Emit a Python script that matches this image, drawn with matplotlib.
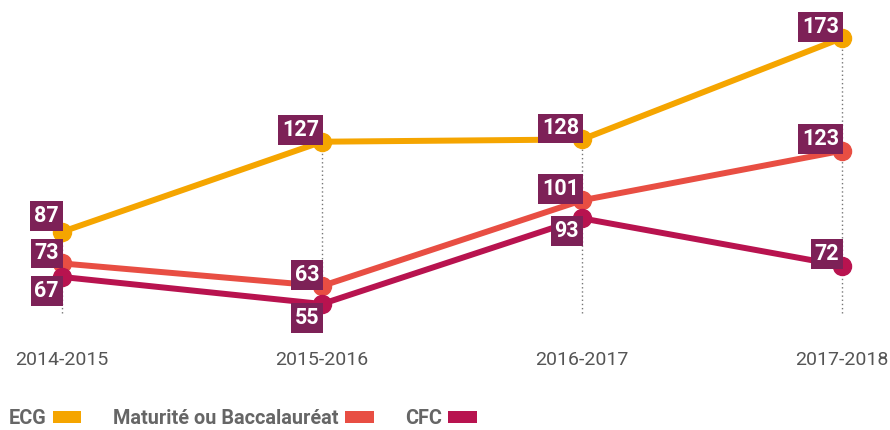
import matplotlib
matplotlib.use("Agg")
import matplotlib.pyplot as plt
from matplotlib.patches import Patch

# data
years = ["2014-2015", "2015-2016", "2016-2017", "2017-2018"]
ecg = [87, 127, 128, 173]
maturite = [73, 63, 101, 123]
cfc = [67, 55, 93, 72]
series_names = ["ECG", "Maturité ou Baccalauréat", "CFC"]

# styles
colors = ["#F5A500", "#E84E43", "#B8134F"]
box_color = "#7D2157"
# vertical offset (px, image down = positive) of each value box centre from its point
label_dy = [[-16, -12, -11, -11],
            [-10, -11, -11, -12],
            [14, 14, 13, -12]]

plt.rcParams["font.family"] = ["Roboto", "DejaVu Sans"]

fig = plt.figure(figsize=(8.9, 4.3), dpi=100)
ax = fig.add_axes([0, 100 / 430, 1, 330 / 430])

xs = list(range(len(years)))
ax.set_xlim(-62 / 260, (890 - 62) / 260)
ax.set_ylim(55 - 26 / 2.254, 55 + 304 / 2.254)

# dotted guides
all_series = [ecg, maturite, cfc]
for i in xs:
    top = max(s[i] for s in all_series)
    ax.plot([i, i], [51, top], color="#777777", linestyle=(0, (1, 2)), linewidth=1, zorder=1)

for k, (vals, col) in enumerate(zip(all_series, colors)):
    ax.plot(xs, vals, color=col, linewidth=4.3, marker="o", markersize=13,
            solid_capstyle="butt", zorder=2 + k)
    for i, v in enumerate(vals):
        ax.annotate(str(v), (i, v), xytext=(-3, -label_dy[k][i]), textcoords="offset pixels",
                    ha="right", va="center", color="white", fontsize=15.5, fontweight="bold",
                    bbox=dict(boxstyle="square,pad=0.18", fc=box_color, ec="none"), zorder=10)

for s in ax.spines.values():
    s.set_visible(False)
ax.set_yticks([])
ax.set_xticks(xs)
ax.set_xticklabels(years, fontsize=14, color="#555555")
ax.tick_params(axis="x", length=0, pad=15)

handles = [Patch(facecolor=c, edgecolor="none") for c in colors]
fig.legend(handles, series_names, loc="center left", bbox_to_anchor=(3 / 890, 11 / 430),
           ncol=3, frameon=False, markerfirst=False, handlelength=1.45, handleheight=0.55,
           handletextpad=0.3, columnspacing=1.6, borderaxespad=0, borderpad=0.3,
           prop=dict(size=14.3, weight="bold"), labelcolor="#666666")

fig.savefig("out.png", dpi=100)
